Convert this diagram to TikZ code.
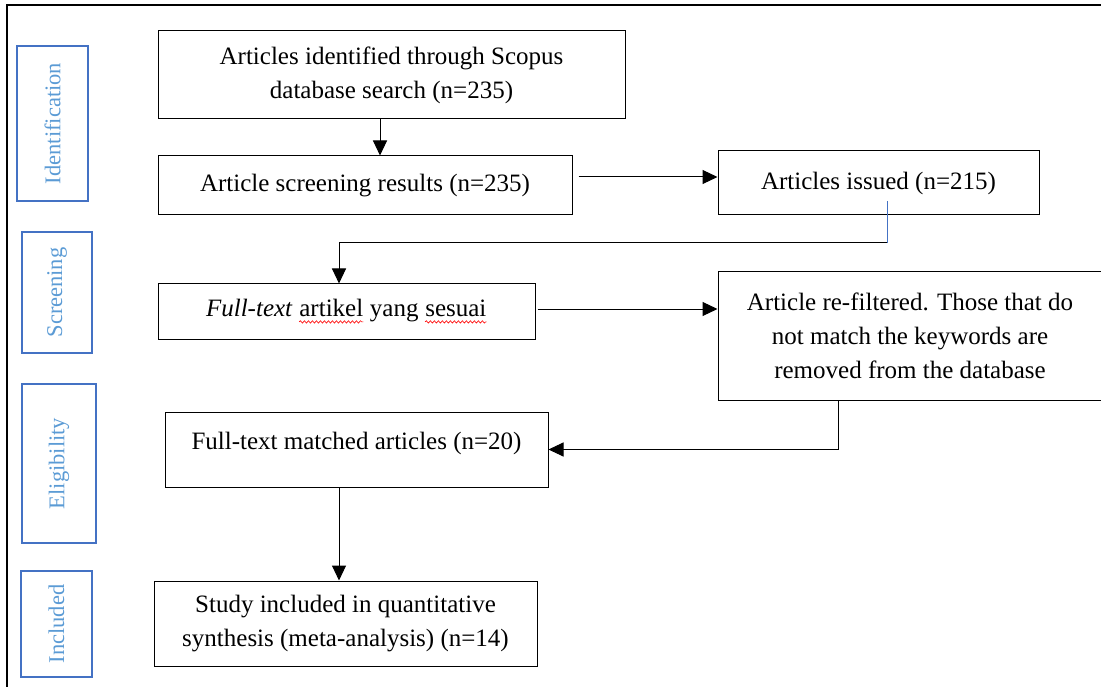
\documentclass[tikz,border=0pt]{standalone}
\usepackage{fontspec}
\setmainfont{Liberation Serif}
\usepackage{xcolor}
\usepackage{tikz}
\usetikzlibrary{positioning,calc,arrows.meta,decorations.pathmorphing}
\definecolor{frameblue}{HTML}{4472C4}
\definecolor{labelblue}{HTML}{5B9BD5}
\newcommand{\wavy}[1]{\tikz[baseline=(w.base)]{\node[draw=none, inner sep=0pt, minimum width=0pt, minimum height=0pt] (w) {#1}; \draw[red, line width=0.6pt, decorate, decoration={snake, amplitude=1.2pt, segment length=4pt}] ([yshift=-5pt]w.base west) -- ([yshift=-5pt]w.base east);}}

\begin{document}
\begin{tikzpicture}[x=1pt, y=-1pt,
    box/.style={draw, line width=1pt, inner sep=0pt, align=center, font=\fontsize{25}{34}\selectfont},
    phase/.style={draw=frameblue, line width=1.8pt, inner sep=0pt, rotate=90, text=labelblue, font=\fontsize{22.5}{27}\selectfont},
    arrow/.style={line width=1pt, -{Triangle[length=15pt, width=14pt]}}]
    \useasboundingbox (0,0) rectangle (1101,687);
    \draw[line width=1.2pt] (7,690) -- (7,5) -- (1105,5);
    \node[phase, minimum width=155pt, minimum height=71pt] (lid) at (52.5,123.5) {Identification};
    \node[phase, minimum width=121pt, minimum height=70pt] (lscr) at (57,292.5) {Screening};
    \node[phase, minimum width=159pt, minimum height=74pt] (lelig) at (59,463.5) {Eligibility};
    \node[phase, minimum width=106pt, minimum height=71pt] (lincl) at (56.5,624) {Included};
    \node[box, minimum width=467pt, minimum height=88pt] (search) at (391.5,75) {Articles identified through Scopus\\database search (n=235)};
    \node[box, minimum width=414pt, minimum height=59pt] (screen) at (365,185.5) {Article screening results (n=235)};
    \node[box, minimum width=321pt, minimum height=64pt] (issued) at (878.5,183) {Articles issued (n=215)};
    \node[box, minimum width=377pt, minimum height=55pt] (fulltext) at (346.5,311.5) {\textit{Full-text} \wavy{artikel} yang \wavy{sesuai}};
    \node[box, minimum width=384pt, minimum height=128pt] (refilter) at (910,336) {Article re-filtered. Those that do\\not match the keywords are\\removed from the database};
    \node[box, minimum width=383pt, minimum height=75pt, text height=18pt, text depth=18pt] (matched) at (356.5,449.5) {Full-text matched articles (n=20)};
    \node[box, minimum width=383pt, minimum height=85pt] (included) at (345.5,623.5) {Study included in quantitative\\synthesis (meta-analysis) (n=14)};
    \coordinate (bend) at (887,243);
    \draw[arrow] ([xshift=-11.5pt]search.south) -- ([xshift=-11.5pt]search.south |- screen.north);
    \draw[arrow] ([xshift=6pt, yshift=8.5pt]screen.east) -- ([yshift=8.5pt]screen.east -| issued.west);
    \draw[frameblue, line width=0.8pt] (bend |- issued.south) ++(0,-14) -- (bend);
    \draw[arrow] (bend) -| ([xshift=-7.5pt]fulltext.north);
    \draw[arrow] ([xshift=2pt, yshift=2.5pt]fulltext.east) -- ([yshift=2.5pt]fulltext.east -| refilter.west);
    \draw[arrow] ([xshift=-72pt]refilter.south) |- (matched.east);
    \draw[arrow] ([xshift=-17.5pt]matched.south) -- ([xshift=-17.5pt]matched.south |- included.north);
\end{tikzpicture}
\end{document}
